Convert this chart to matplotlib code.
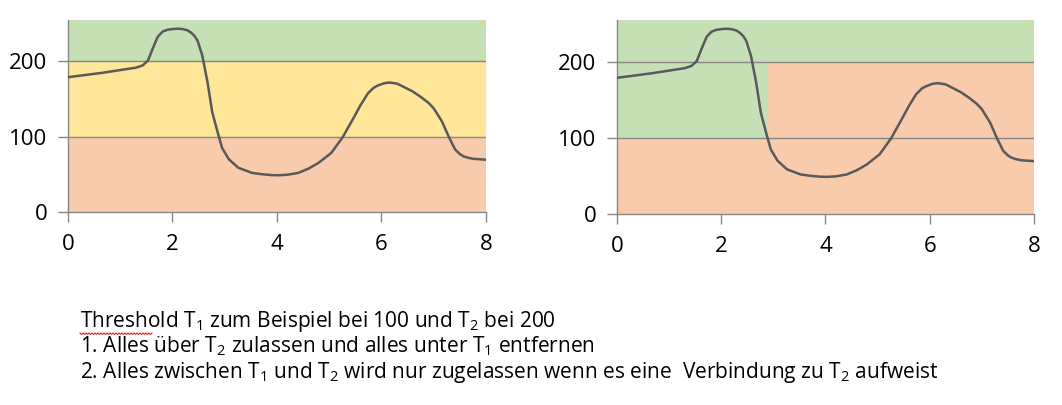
"""Hysteresis threshold illustration: signal against two threshold bands."""

import matplotlib

matplotlib.use("Agg")
import matplotlib.pyplot as plt
from matplotlib.font_manager import fontManager

# signal values
X = [0.0, 0.67, 1.30, 1.43, 1.53, 1.62, 1.72, 1.81, 1.9, 2.0, 2.1, 2.19, 2.28, 2.35,
     2.42, 2.48, 2.57, 2.67, 2.76, 2.86, 2.95, 3.08, 3.26, 3.52, 3.7, 3.9, 4.03, 4.2,
     4.41, 4.6, 4.79, 5.04, 5.26, 5.48, 5.6, 5.74, 5.85, 5.93, 6.05, 6.15, 6.3, 6.43,
     6.6, 6.75, 6.9, 7.0, 7.16, 7.29, 7.41, 7.5, 7.57, 7.66, 7.76, 8.0]
Y = [179, 185, 191.7, 194.7, 201, 216.7, 233, 239.5, 242, 243, 243.5, 243, 241.5, 238.6,
     234, 227.6, 208, 172.8, 133, 107, 85, 70, 58.8, 52, 50.3, 49, 48.8, 49.5,
     52, 57.5, 65, 78.5, 99.6, 126.7, 142, 157.5, 165, 168, 171, 172, 170.5, 166,
     160, 153, 145, 137.7, 120, 99.6, 83, 77, 74, 72, 70.6, 69.5]

T1 = 100
T2 = 200
YTOP = 255
XMAX = 8
LINK_END = 2.9  # where the right chart's T1..T2 band stops being linked to T2

GREEN = "#c5e0b4"
YELLOW = "#ffe699"
ORANGE = "#f8cbad"
LINE = "#595959"
AXIS = "#878787"

NOTES = [
    "Threshold T$_1$ zum Beispiel bei 100 und T$_2$ bei 200",
    "1. Alles über T$_2$ zulassen und alles unter T$_1$ entfernen",
    "2. Alles zwischen T$_1$ und T$_2$ wird nur zugelassen wenn es eine  Verbindung zu T$_2$ aufweist",
]

names = {f.name for f in fontManager.ttflist}
FONT = "Liberation Sans Narrow" if "Liberation Sans Narrow" in names else "Open Sans"
plt.rcParams["font.family"] = [FONT, "DejaVu Sans"]
plt.rcParams["mathtext.default"] = "regular"


def base(ax):
    ax.set_xlim(0, XMAX)
    ax.set_ylim(0, YTOP)
    ax.set_xticks(range(0, XMAX + 1, 2))
    ax.set_yticks([0, T1, T2])
    for side in ("top", "right"):
        ax.spines[side].set_visible(False)
    for side in ("left", "bottom"):
        ax.spines[side].set_color(AXIS)
        ax.spines[side].set_linewidth(1.0)
    ax.tick_params(axis="both", colors=AXIS, labelcolor="black", labelsize=16,
                   length=7, width=1.0)
    ax.tick_params(axis="x", pad=9)
    ax.tick_params(axis="y", pad=8)
    for level in (T1, T2):
        ax.axhline(level, color=AXIS, lw=1.0, zorder=2)
    ax.plot(X, Y, color=LINE, lw=1.8, zorder=3, solid_joinstyle="round")


fig = plt.figure(figsize=(10.62, 4.05), dpi=100)
left = fig.add_axes([0.064, 0.4765, 0.3936, 0.4741])
right = fig.add_axes([0.581, 0.4716, 0.3926, 0.4790])

left.axhspan(T2, YTOP, color=GREEN, lw=0, zorder=0)
left.axhspan(T1, T2, color=YELLOW, lw=0, zorder=0)
left.axhspan(0, T1, color=ORANGE, lw=0, zorder=0)
base(left)

right.axhspan(T2, YTOP, color=GREEN, lw=0, zorder=0)
right.fill_between([0, LINK_END], T1, T2, color=GREEN, lw=0, zorder=0)
right.fill_between([LINK_END, XMAX], T1, T2, color=ORANGE, lw=0, zorder=0)
right.axhspan(0, T1, color=ORANGE, lw=0, zorder=0)
base(right)

for i, line in enumerate(NOTES):
    fig.text(80 / 1062, 1 - (327 + 25.5 * i) / 405, line, fontsize=15, color="black",
             va="baseline", ha="left")

# spell-check squiggle under "Threshold"
zx, zy = [], []
px = 80.0
k = 0
while px <= 152:
    zx.append(px / 1062)
    zy.append(1 - (333 + (1.5 if k % 2 else 0.0)) / 405)
    px += 1.5
    k += 1
fig.add_artist(plt.Line2D(zx, zy, color="#e02020", lw=0.8, transform=fig.transFigure))

fig.savefig("out.png", dpi=100)
